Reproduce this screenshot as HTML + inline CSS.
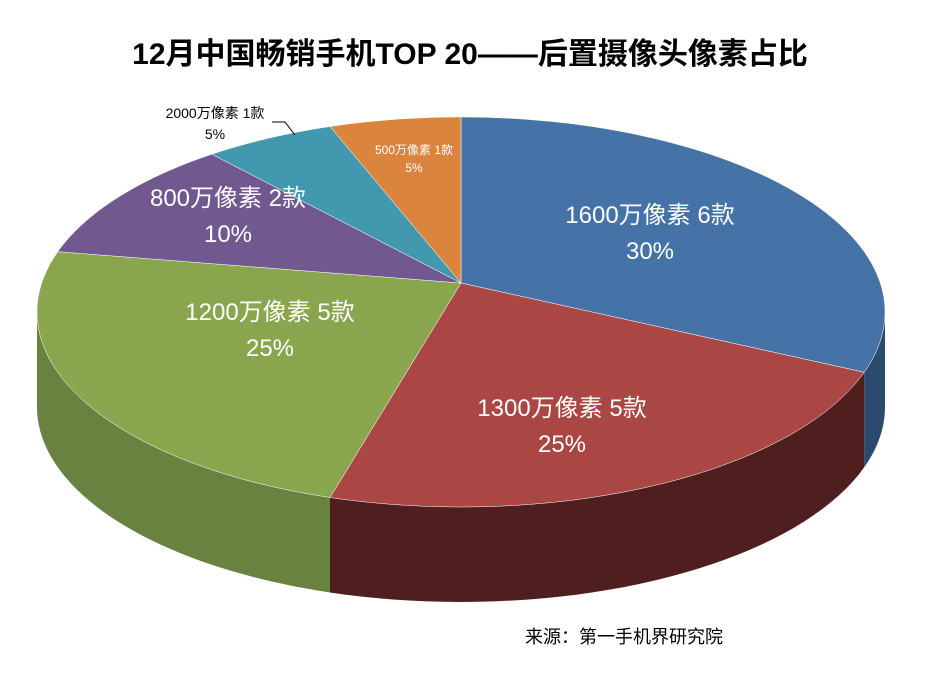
<!DOCTYPE html>
<html><head><meta charset="utf-8"><style>
body{margin:0;background:#fff;}
svg text{font-family:"Liberation Sans","Noto Sans CJK SC",sans-serif;}
</style></head><body>
<svg id="c" width="932" height="676"></svg>
<script>
const categories=["1600万像素 6款","1300万像素 5款","1200万像素 5款","800万像素 2款","2000万像素 1款","500万像素 1款"];
const values=[30,25,25,10,5,5];
const pctLabels=["30%","25%","25%","10%","5%","5%"];
const colors=["#4572A7","#AA4643","#89A54E","#71588F","#4198AF","#DB843D"];
const sides=["#2c4a6e","#4e1f1e","#6a8240","#4a3a60","#2b6676","#8e5626"];
const cx=461,cy=312,rx=424,ry=195,px=461,py=283,depth=95;
const NS="http://www.w3.org/2000/svg";
const svg=document.getElementById('c');
function mk(t,a){const e=document.createElementNS(NS,t);for(const k in a)e.setAttribute(k,a[k]);svg.appendChild(e);return e;}
function pt(deg,dy){const r=deg*Math.PI/180;return [cx+rx*Math.sin(r),cy-ry*Math.cos(r)+(dy||0)];}
const total=values.reduce((a,b)=>a+b,0);
let acc=0;const angs=[];
values.forEach(v=>{angs.push([acc/total*360,(acc+v)/total*360]);acc+=v;});
// sides
angs.forEach(([a0,a1],i)=>{
  const s=Math.max(a0,90),e=Math.min(a1,270);
  if(e<=s)return;
  let d='';const N=40;
  for(let k=0;k<=N;k++){const p=pt(s+(e-s)*k/N);d+=(k?'L':'M')+p[0].toFixed(1)+','+p[1].toFixed(1);}
  for(let k=N;k>=0;k--){const p=pt(s+(e-s)*k/N,depth);d+='L'+p[0].toFixed(1)+','+p[1].toFixed(1);}
  const el=mk('path',{d:d+'Z',fill:sides[i]});
  
  
});
// tops
angs.forEach(([a0,a1],i)=>{
  let d='M'+px+','+py;const N=60;
  for(let k=0;k<=N;k++){const p=pt(a0+(a1-a0)*k/N);d+='L'+p[0].toFixed(1)+','+p[1].toFixed(1);}
  const el=mk('path',{d:d+'Z',fill:colors[i],stroke:'#fff','stroke-width':0.5});
  
  
});
// labels
const lp=[[650,223,24,'#fff'],[562,416,24,'#fff'],[270,320,24,'#fff'],[228,206,24,'#fff'],[215,118,14,'#000'],[414,154,12,'#fff']];
categories.forEach((c,i)=>{
  const [x,y,fs,col]=lp[i];
  const t=mk('text',{x:x,y:y,'font-size':fs,fill:col,'text-anchor':'middle'});t.textContent=c;
  
  
  const t2=mk('text',{x:x,y:y+fs*1.5,'font-size':fs,fill:col,'text-anchor':'middle'});t2.textContent=pctLabels[i];
  
  
});
const ln=mk('polyline',{points:'272,122 285,122 295,135',fill:'none',stroke:'#000','stroke-width':1});


const title=mk('text',{x:470,y:64,'font-size':30,'font-weight':'bold','text-anchor':'middle',fill:'#000'});
title.textContent='12月中国畅销手机TOP 20——后置摄像头像素占比';


const src=mk('text',{x:525,y:643,'font-size':18,fill:'#000'});
src.textContent='来源：第一手机界研究院';


</script>
</body></html>
